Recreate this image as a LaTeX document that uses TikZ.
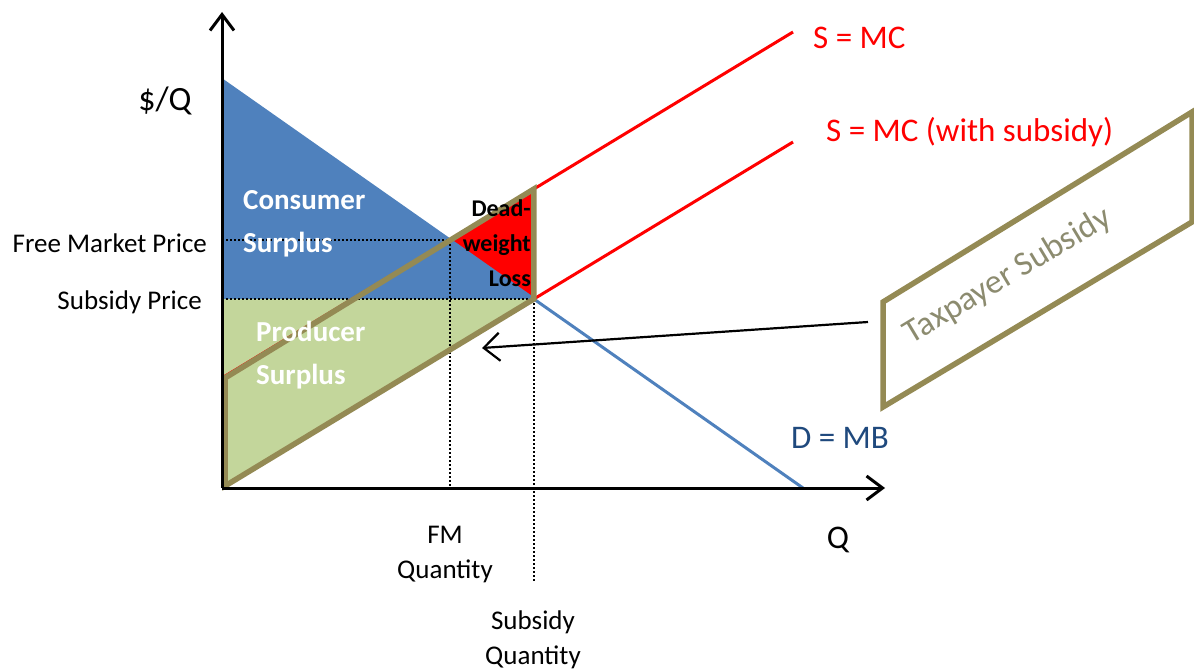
\documentclass[tikz,border=0pt]{standalone}
\usepackage{fontspec}
\setmainfont{Carlito}
\usetikzlibrary{arrows.meta}
\definecolor{csblue}{HTML}{4F81BD}
\definecolor{psgreen}{HTML}{C3D69B}
\definecolor{olivebox}{HTML}{948A54}
\definecolor{mbblue}{HTML}{1F497D}
\definecolor{taxgray}{HTML}{8C8B6F}
\definecolor{mcred}{HTML}{FF0000}
\begin{document}
\begin{tikzpicture}[x=10pt,y=10pt]
        \tikzset{every node/.style={inner sep=0pt},
          axisline/.style={black,line width=3pt,-{Straight Barb[length=16pt,width=24pt,line width=3pt]}},
          curveline/.style={line width=3pt},
          guideline/.style={black,dash pattern=on 2pt off 2pt,line width=2.5pt},
          subsidybox/.style={olivebox,line width=5.5pt,line join=miter},
          biglabel/.style={font=\fontsize{33}{40}\selectfont},
          axislabel/.style={font=\fontsize{27}{35}\selectfont,align=center},
          arealabel/.style={white,font=\bfseries\fontsize{29}{43}\selectfont,align=left}}
        \useasboundingbox (0,0) rectangle (119.4,-67.1);
        % key points
        \coordinate (O) at (22.2,-48.8);
        \coordinate (ytop) at (22.2,-1.2);
        \coordinate (xend) at (88.5,-48.8);
        \coordinate (dtop) at (22.2,-8.0);
        \coordinate (dend) at (80.3,-48.8);
        \coordinate (stop) at (22.2,-37.8);
        \coordinate (send) at (79.3,-3.2);
        \coordinate (subend) at (79.3,-14.2);
        \coordinate (fm) at (44.98,-24.0);
        \coordinate (sub) at (53.39,-29.9);
        \coordinate (subtop) at (53.39,-18.9);
        \coordinate (fmprice) at (22.2,-24.0);
        \coordinate (subprice) at (22.2,-29.9);
        \coordinate (fmq) at (44.98,-48.8);
        \coordinate (subq) at (53.39,-58.3);
        % surplus areas
        \fill [csblue] (dtop) -- (sub) -- (subprice) -- cycle;
        \fill [psgreen] (subprice) -- (sub) -- (O) -- cycle;
        \fill [mcred] (fm) -- (subtop) -- (sub) -- cycle;
        % supply and demand
        \draw [curveline,csblue] (dtop) -- (dend);
        \draw [curveline,mcred] (stop) -- (send);
        \draw [curveline,mcred] (O) -- (subend);
        % guides
        \draw [guideline] (fmprice) -- (fm) -- (fmq);
        \draw [guideline] (subprice) -- (sub) -- (subq);
        % subsidy parallelogram
        \draw [subsidybox] (22.5,-48.6) -- (22.5,-37.8) -- (subtop) -- (sub) -- cycle;
        % axes
        \draw [axisline] (O) -- (ytop);
        \draw [axisline] (O) -- (xend);
        % labels
        \node [font=\fontsize{34}{40}\selectfont] (pq) at (16.5,-10.1) {\$/Q};
        \node [font=\fontsize{27}{35}\selectfont,anchor=east] (fmlabel) at (20.7,-24.3) {Free Market Price};
        \node [font=\fontsize{27}{35}\selectfont,anchor=east] (sublabel) at (20.2,-30.2) {Subsidy Price};
        \node [arealabel,anchor=west] (cs) at (24.3,-22.4) {Consumer\\Surplus};
        \node [arealabel,anchor=west] (ps) at (25.6,-35.5) {Producer\\Surplus};
        \node [font=\bfseries\fontsize{24}{35}\selectfont,align=right,anchor=east] (dwl) at (53.1,-24.3) {Dead-\\weight\\Loss};
        \node [axislabel] (fmqlabel) at (44.5,-55.5) {FM\\Quantity};
        \node [axislabel] (subqlabel) at (53.3,-64.0) {Subsidy\\Quantity};
        \node [biglabel] (qlabel) at (83.8,-54.0) {Q};
        \node [biglabel,mbblue] (mb) at (84.0,-43.8) {D = MB};
        \node [biglabel,mcred,anchor=west] (mc) at (81.3,-3.8) {S = MC};
        \node [biglabel,mcred,anchor=west] (mcsub) at (82.6,-13.2) {S = MC (with subsidy)};
        % taxpayer box
        \coordinate (boxbl) at (88.3,-40.7);
        \coordinate (boxtl) at (88.3,-30.2);
        \coordinate (boxtr) at (119.2,-11.2);
        \coordinate (boxbr) at (119.2,-22.2);
        \draw [subsidybox] (boxbl) -- (boxtl) -- (boxtr) -- (boxbr) -- cycle;
        \node [taxgray,font=\fontsize{34}{40}\selectfont,rotate=31] (tax) at (100.8,-27.6) {Taxpayer Subsidy};
        \coordinate (arrowtail) at (86.8,-32.2);
        \coordinate (arrowhead) at (48.2,-34.8);
        \draw [black,line width=2.2pt,-{Straight Barb[length=16pt,width=28pt,line width=2.2pt]}] (arrowtail) -- (arrowhead);
\end{tikzpicture}
\end{document}
